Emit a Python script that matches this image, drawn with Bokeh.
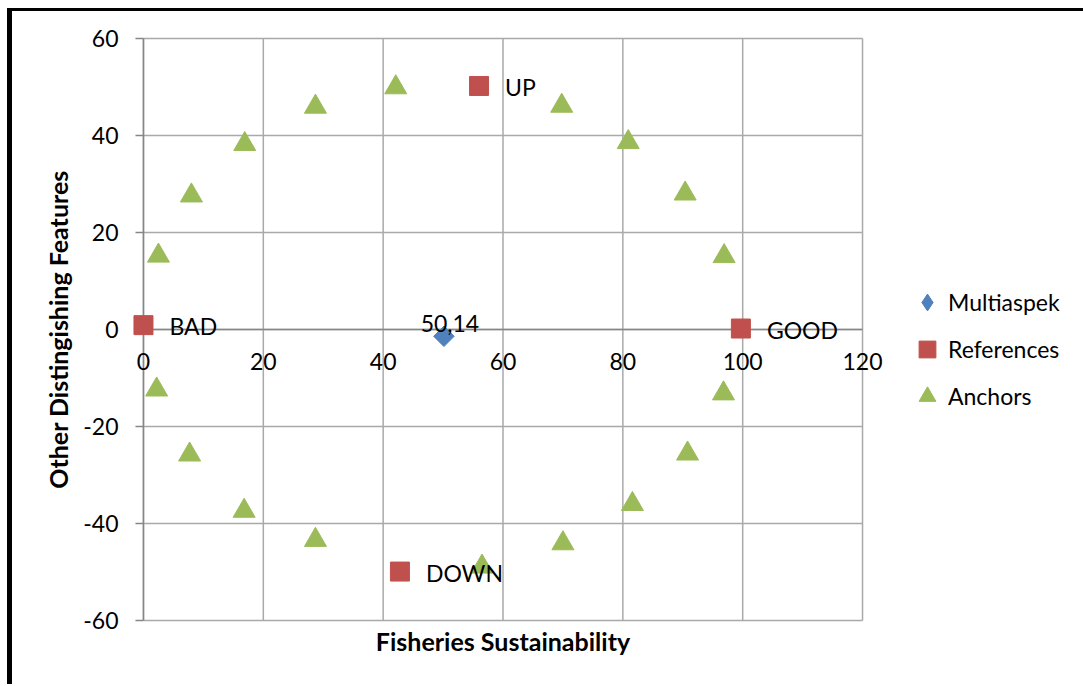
import numpy as np
from bokeh.plotting import figure
from bokeh.models import (Range1d, FixedTicker, LinearAxis, Legend, LegendItem,
                          Grid, CustomJSTickFormatter)
from bokeh.core.properties import value
from bokeh.embed import file_html
from bokeh.resources import INLINE

# ---------------- data ----------------
multi_x = [50.14]
multi_y = [-1.4]

ref_labels = ["BAD", "GOOD", "UP", "DOWN"]
ref_x = [0.0, 99.7, 56.0, 42.8]
ref_y = [0.9, 0.2, 50.2, -49.9]

anchor_x = [2.5, 8.0, 16.9, 28.7, 42.1, 69.8, 80.9, 90.4, 96.9,
            96.8, 90.8, 81.6, 70.0, 56.5, 28.7, 16.8, 7.7, 2.2]
anchor_y = [15.2, 27.6, 38.2, 45.9, 49.9, 46.1, 38.6, 28.0, 15.1,
            -13.2, -25.6, -36.0, -44.1, -48.9, -43.4, -37.4, -25.8, -12.4]

x_ticks = [0, 20, 40, 60, 80, 100, 120]
y_ticks = [-60, -40, -20, 0, 20, 40, 60]

series_names = ["Multiaspek", "References", "Anchors"]
x_title = "Fisheries Sustainability"
y_title = "Other Distingishing Features"

# ---------------- style ----------------
FONT = "Lato"
FS = "23px"
TFS = "25px"
BLUE, RED, GREEN = "#4f81bd", "#c0504d", "#9bbb59"
GRID = "#a9a9a9"
AXIS = "#868686"

p = figure(frame_width=767, frame_height=586,
           x_range=Range1d(-4, 124), y_range=Range1d(-60.4, 60.4),
           x_axis_location=None, y_axis_location=None,
           min_border_left=107, min_border_right=197,
           min_border_top=25, min_border_bottom=62,
           output_backend="svg", toolbar_location=None)
p.center = [r for r in p.center if not isinstance(r, Grid)]
p.outline_line_color = None
p.background_fill_color = "white"
p.border_fill_color = "white"
p.styles = {"margin-left": "7px", "margin-top": "8px",
            "border-left": "5px solid black", "border-top": "3px solid black"}

# y axis labels + title (tick marks and line drawn as glyphs at x = 0)
yax = LinearAxis(ticker=FixedTicker(ticks=y_ticks), axis_label=y_title,
                 formatter=CustomJSTickFormatter(code="return tick.toString();"))
yax.axis_line_color = None
yax.major_tick_line_color = None
yax.major_tick_out = 0
yax.major_tick_in = 0
yax.minor_tick_line_color = None
yax.major_label_standoff = 1
yax.major_label_text_font = FONT
yax.major_label_text_font_size = FS
yax.major_label_text_color = "black"
yax.axis_label_text_font = FONT
yax.axis_label_text_font_size = TFS
yax.axis_label_text_font_style = "bold"
yax.axis_label_text_color = "black"
yax.axis_label_standoff = 7
p.add_layout(yax, "left")

# x axis labels crossing at y = 0
xax = LinearAxis(ticker=FixedTicker(ticks=x_ticks), fixed_location=0,
                 bounds=(x_ticks[0], x_ticks[-1]))
xax.axis_line_color = None
xax.major_tick_line_color = None
xax.major_tick_out = 0
xax.major_tick_in = 0
xax.minor_tick_line_color = None
xax.major_label_standoff = 23
xax.major_label_text_font = FONT
xax.major_label_text_font_size = FS
xax.major_label_text_color = "black"
p.add_layout(xax, "below")

# x axis title holder
tax = LinearAxis(ticker=FixedTicker(ticks=[]), axis_label=x_title)
tax.axis_line_color = None
tax.major_tick_line_color = None
tax.minor_tick_line_color = None
tax.major_tick_out = 0
tax.major_label_text_font_size = "0px"
tax.axis_label_text_font = FONT
tax.axis_label_text_font_size = TFS
tax.axis_label_text_font_style = "bold"
tax.axis_label_text_color = "black"
tax.axis_label_standoff = 3
p.add_layout(tax, "below")

# gridlines limited to the plot area
ny, nx = len(y_ticks), len(x_ticks)
p.segment(x0=[x_ticks[0]] * ny, x1=[x_ticks[-1]] * ny, y0=y_ticks, y1=y_ticks,
          line_color=GRID, line_width=1.5)
p.segment(x0=x_ticks, x1=x_ticks, y0=[y_ticks[0]] * nx, y1=[y_ticks[-1]] * nx,
          line_color=GRID, line_width=1.5)
# axis lines
p.segment(x0=[x_ticks[0]], x1=[x_ticks[-1]], y0=[0], y1=[0],
          line_color=AXIS, line_width=1.5)
p.segment(x0=[0], x1=[0], y0=[y_ticks[0]], y1=[y_ticks[-1]],
          line_color=AXIS, line_width=1.5)
p.ray(x=[0] * ny, y=y_ticks, length=8, length_units="screen", angle=np.pi,
      line_color=AXIS, line_width=1.5)

# series
r_multi = p.scatter(multi_x, multi_y, marker="square", angle=np.pi / 4, size=14.5,
                    fill_color=BLUE, line_color=BLUE)
r_ref = p.scatter(ref_x, ref_y, marker="square", size=19,
                  fill_color=RED, line_color=RED)
r_anc = p.scatter(anchor_x, anchor_y, marker="triangle", size=22,
                  fill_color=GREEN, line_color=GREEN)
# legend-only glyph for the diamond key (legend swatches ignore angle)
r_multi_key = p.scatter([np.nan], [np.nan], marker="diamond", size=14.5,
                        fill_color=BLUE, line_color=BLUE)

# data labels
p.text(x=ref_x, y=ref_y, text=ref_labels, x_offset=26, y_offset=1,
       text_align="left", text_baseline="middle",
       text_font=value(FONT), text_font_size=FS, text_color="black")
multi_label = [f"{v:.2f}".replace(".", ",") for v in multi_x]
p.text(x=multi_x, y=multi_y, text=multi_label, x_offset=6, y_offset=-13,
       text_align="center", text_baseline="alphabetic",
       text_font=value(FONT), text_font_size=FS, text_color="black")

legend = Legend(items=[LegendItem(label=series_names[0], renderers=[r_multi_key]),
                       LegendItem(label=series_names[1], renderers=[r_ref]),
                       LegendItem(label=series_names[2], renderers=[r_anc])],
                location=(20, 204))
legend.glyph_width = 42
legend.glyph_height = 44
legend.spacing = 3
legend.padding = 0
legend.margin = 0
legend.label_standoff = 0
legend.border_line_color = None
legend.background_fill_alpha = 0
legend.label_text_font = FONT
legend.label_text_font_size = FS
legend.label_text_color = "black"
p.add_layout(legend, "right")

open("out.html", "w").write(file_html(p, INLINE))
